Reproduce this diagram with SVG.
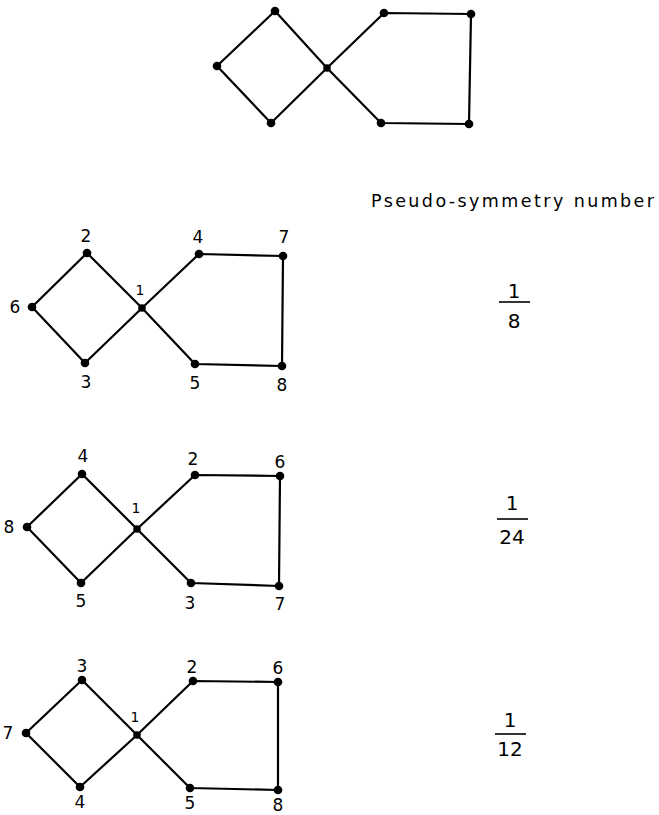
<svg xmlns="http://www.w3.org/2000/svg" width="659" height="815" viewBox="0 0 659 815">
<style>
.e{stroke:#000;stroke-width:2.2;fill:none;stroke-linecap:round;stroke-linejoin:round}
.b{stroke:#000;stroke-width:1.6;fill:none}
.n{fill:#000}
.l{font-family:"DejaVu Sans","Liberation Sans",sans-serif;font-size:17px;fill:#000;text-anchor:middle}
.s{font-family:"DejaVu Sans","Liberation Sans",sans-serif;font-size:14px;fill:#000;text-anchor:middle}
.f{font-family:"DejaVu Sans","Liberation Sans",sans-serif;font-size:20px;fill:#000;text-anchor:middle}
.t{font-family:"DejaVu Sans","Liberation Sans",sans-serif;font-size:17.5px;fill:#000}
</style>
<rect width="659" height="815" fill="#fff"/>
<g id="connectors">
<path class="e" d="M217,66 L275,11 L327,68 L271,123 Z"/>
<path class="e" d="M327,68 L384,13 L471,14 L469,124 L381,123 Z"/>
<path class="e" d="M32,307 L87,253 L142,308 L85,363 Z"/>
<path class="e" d="M142,308 L199,254 L283,256 L282,366 L195,364 Z"/>
<path class="e" d="M27,527 L82,474 L137,529 L81,583 Z"/>
<path class="e" d="M137,529 L195,475 L280,476 L279,586 L191,583 Z"/>
<path class="e" d="M26,733 L82,680 L137,735 L80,787 Z"/>
<path class="e" d="M137,735 L193,681 L278,682 L278,790 L190,788 Z"/>
</g>
<g id="top-graph">
<g id="t-top"><circle class="n" cx="275" cy="11" r="4.3"/></g>
<g id="t-left"><circle class="n" cx="217" cy="66" r="4.3"/></g>
<g id="t-bottom"><circle class="n" cx="271" cy="123" r="4.3"/></g>
<g id="t-center"><circle class="n" cx="327" cy="68" r="3.8"/></g>
<g id="t-ur"><circle class="n" cx="384" cy="13" r="4.3"/></g>
<g id="t-fur"><circle class="n" cx="471" cy="14" r="4.3"/></g>
<g id="t-lr"><circle class="n" cx="381" cy="123" r="4.3"/></g>
<g id="t-flr"><circle class="n" cx="469" cy="124" r="4.3"/></g>
</g>
<g id="graph-a">
<g id="a1"><circle class="n" cx="142" cy="308" r="3.8"/><text class="s" x="140" y="295">1</text></g>
<g id="a2"><circle class="n" cx="87" cy="253" r="4.3"/><text class="l" x="86" y="242">2</text></g>
<g id="a3"><circle class="n" cx="85" cy="363" r="4.3"/><text class="l" x="86" y="388">3</text></g>
<g id="a4"><circle class="n" cx="199" cy="254" r="4.3"/><text class="l" x="198" y="243">4</text></g>
<g id="a5"><circle class="n" cx="195" cy="364" r="4.3"/><text class="l" x="195" y="389">5</text></g>
<g id="a6"><circle class="n" cx="32" cy="307" r="4.3"/><text class="l" x="15" y="313">6</text></g>
<g id="a7"><circle class="n" cx="283" cy="256" r="4.3"/><text class="l" x="284" y="243">7</text></g>
<g id="a8"><circle class="n" cx="282" cy="366" r="4.3"/><text class="l" x="282" y="391">8</text></g>
</g>
<g id="graph-b">
<g id="b1"><circle class="n" cx="137" cy="529" r="3.8"/><text class="s" x="136" y="513">1</text></g>
<g id="b2"><circle class="n" cx="195" cy="475" r="4.3"/><text class="l" x="193" y="465">2</text></g>
<g id="b3"><circle class="n" cx="191" cy="583" r="4.3"/><text class="l" x="190" y="609">3</text></g>
<g id="b4"><circle class="n" cx="82" cy="474" r="4.3"/><text class="l" x="83" y="462">4</text></g>
<g id="b5"><circle class="n" cx="81" cy="583" r="4.3"/><text class="l" x="81" y="607">5</text></g>
<g id="b6"><circle class="n" cx="280" cy="476" r="4.3"/><text class="l" x="280" y="468">6</text></g>
<g id="b7"><circle class="n" cx="279" cy="586" r="4.3"/><text class="l" x="280" y="610">7</text></g>
<g id="b8"><circle class="n" cx="27" cy="527" r="4.3"/><text class="l" x="9" y="533">8</text></g>
</g>
<g id="graph-c">
<g id="c1"><circle class="n" cx="137" cy="735" r="3.8"/><text class="s" x="135" y="722">1</text></g>
<g id="c2"><circle class="n" cx="193" cy="681" r="4.3"/><text class="l" x="192" y="673">2</text></g>
<g id="c3"><circle class="n" cx="82" cy="680" r="4.3"/><text class="l" x="82" y="672">3</text></g>
<g id="c4"><circle class="n" cx="80" cy="787" r="4.3"/><text class="l" x="80" y="808">4</text></g>
<g id="c5"><circle class="n" cx="190" cy="788" r="4.3"/><text class="l" x="190" y="809">5</text></g>
<g id="c6"><circle class="n" cx="278" cy="682" r="4.3"/><text class="l" x="278" y="674">6</text></g>
<g id="c7"><circle class="n" cx="26" cy="733" r="4.3"/><text class="l" x="8" y="739">7</text></g>
<g id="c8"><circle class="n" cx="278" cy="790" r="4.3"/><text class="l" x="278" y="811">8</text></g>
</g>
<g id="title"><text class="t" x="371" y="207" textLength="283" lengthAdjust="spacing">Pseudo-symmetry number</text></g>
<g id="frac-a"><text class="f" x="514" y="298">1</text><line class="b" x1="499" y1="302" x2="530" y2="302"/><text class="f" x="514" y="328">8</text></g>
<g id="frac-b"><text class="f" x="512" y="510">1</text><line class="b" x1="497" y1="519" x2="528" y2="519"/><text class="f" x="512" y="544">24</text></g>
<g id="frac-c"><text class="f" x="510" y="727">1</text><line class="b" x1="495" y1="734" x2="526" y2="734"/><text class="f" x="510" y="756">12</text></g>
</svg>
